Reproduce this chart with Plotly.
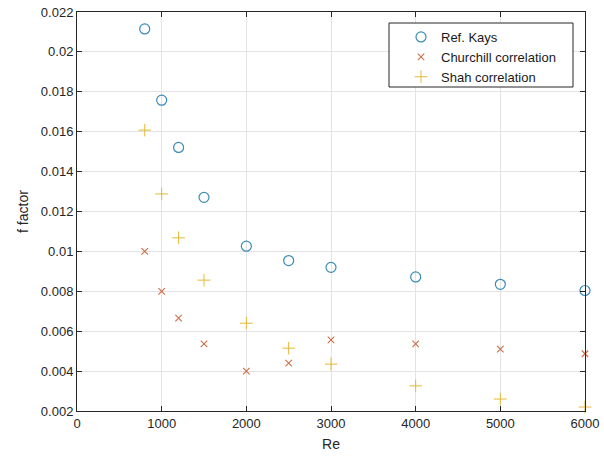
import plotly.graph_objects as go

# Reynolds numbers
re_vals = [800, 1000, 1200, 1500, 2000, 2500, 3000, 4000, 5000, 6000]

# Friction factor series
f_kays = [0.02115, 0.01758, 0.01521, 0.01271, 0.01026, 0.00954, 0.00920, 0.00872, 0.00835, 0.00804]
f_churchill = [0.01000, 0.00800, 0.00666, 0.00536, 0.00400, 0.00440, 0.00557, 0.00537, 0.00510, 0.00487]
f_shah = [0.01608, 0.01288, 0.01068, 0.00856, 0.00640, 0.00515, 0.00435, 0.00326, 0.00260, 0.00220]

# Axis ticks
x_ticks = [0, 1000, 2000, 3000, 4000, 5000, 6000]
y_ticks = [0.002, 0.004, 0.006, 0.008, 0.01, 0.012, 0.014, 0.016, 0.018, 0.02, 0.022]
y_tick_text = ["0.002", "0.004", "0.006", "0.008", "0.01", "0.012", "0.014",
               "0.016", "0.018", "0.02", "0.022"]

FONT = "Liberation Sans, Arial, sans-serif"
AX = "#262626"

fig = go.Figure()
fig.add_trace(go.Scatter(
    x=re_vals, y=f_kays, mode="markers", name="Ref. Kays",
    marker=dict(symbol="circle-open", size=10, color="#3a8bb5", line=dict(width=1.2)),
    cliponaxis=False,
))
fig.add_trace(go.Scatter(
    x=re_vals, y=f_churchill, mode="markers", name="Churchill correlation",
    marker=dict(symbol="x-thin-open", size=6.5, color="#cd6d48", line=dict(width=1.1)),
    cliponaxis=False,
))
fig.add_trace(go.Scatter(
    x=re_vals, y=f_shah, mode="markers", name="Shah correlation",
    marker=dict(symbol="cross-thin-open", size=9, color="#e3b936", line=dict(width=1)),
    cliponaxis=False,
))

axis_common = dict(
    showline=True, linecolor=AX, linewidth=1, mirror="ticks",
    ticks="inside", ticklen=5, tickcolor=AX, tickwidth=1,
    showgrid=True, gridcolor="#e3e3e3", gridwidth=1, zeroline=False,
    tickfont=dict(family=FONT, size=13, color=AX),
    automargin=False,
)

fig.update_xaxes(
    range=[0, 6000], tickvals=x_ticks,
    title=dict(text="Re", font=dict(family=FONT, size=14, color=AX), standoff=9),
    **axis_common,
)
fig.update_yaxes(
    range=[0.002, 0.022], tickvals=y_ticks, ticktext=y_tick_text,
    title=dict(text="f factor", font=dict(family=FONT, size=14, color=AX), standoff=8),
    **axis_common,
)

# Legend frame drawn as a box around the borderless legend
fig.add_shape(
    type="rect", xref="paper", yref="paper",
    x0=(389 - 77) / 508, x1=(573 - 77) / 508,
    y0=1 - (87 - 12) / 399, y1=1 - (23 - 12) / 399,
    line=dict(color=AX, width=1), fillcolor="white", layer="above",
)

fig.update_layout(
    width=604, height=465,
    margin=dict(l=77, r=19, t=12, b=54),
    paper_bgcolor="white", plot_bgcolor="white",
    showlegend=True,
    legend=dict(
        x=(401 - 77) / 508, y=1 - (22 - 12) / 399, xanchor="left", yanchor="top",
        bgcolor="rgba(0,0,0,0)", borderwidth=0,
        font=dict(family=FONT, size=13, color="#1a1a1a"),
        tracegroupgap=0, itemwidth=30,
    ),
)

fig.write_html("out.html")
